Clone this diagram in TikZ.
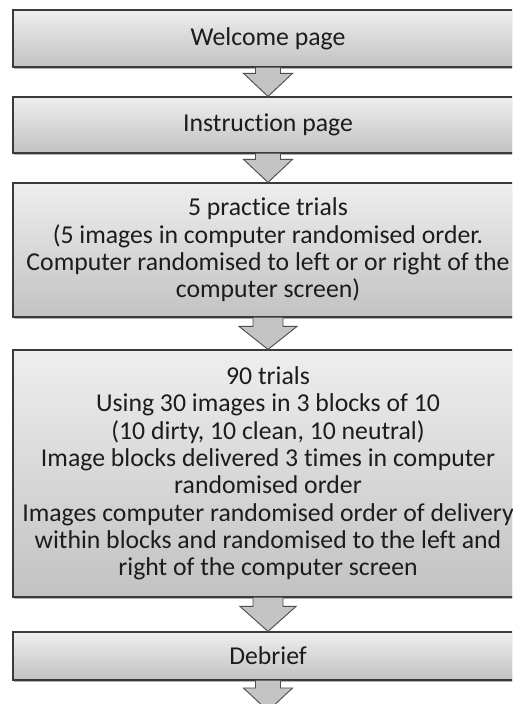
\documentclass[tikz,border=0pt]{standalone}
\usepackage{fontspec}
\setmainfont{Carlito}[Ligatures = NoCommon]
\usetikzlibrary{calc, shadows}

\definecolor{boxtop}{RGB}{238,238,238}
\definecolor{boxbottom}{RGB}{194,194,194}
\definecolor{boxline}{RGB}{58,58,58}
\definecolor{arrowfill}{RGB}{196,196,196}
\definecolor{arrowline}{RGB}{78,78,78}
\definecolor{textgrey}{RGB}{28,28,28}

\newcommand{\flowarrow}[5]{%
    \filldraw[blockarrow] ($(#1)+(-#3,0)$) -- ($(#2)+(-#3,#5)$) -- ($(#2)+(-#4,#5)$) -- (#2)
        -- ($(#2)+(#4,#5)$) -- ($(#2)+(#3,#5)$) -- ($(#1)+(#3,0)$);
}

\begin{document}
\begin{tikzpicture}[x = 0.75pt, y = 0.75pt,
        stage/.style = {draw = boxline, line width = 0.9pt, top color = boxtop, bottom color = boxbottom,
            minimum width = 382.5pt, inner sep = 0pt, align = center, text = textgrey,
            font = \fontsize{19.3}{20.5}\selectfont,
            drop shadow = {shadow xshift = 0.4pt, shadow yshift = -1.4pt, opacity = 0.3, fill = black}},
        blockarrow/.style = {draw = arrowline, fill = arrowfill, line width = 0.7pt, line join = miter}]
    \clip (0,0) rectangle (512,704);
    \fill[white] (0,0) rectangle (512,704);

    \node[stage, minimum height = 42.75pt] (welcome) at (268,665.5) {Welcome page};
    \node[stage, minimum height = 42pt] (instruction) at (268,579) {Instruction page};
    \node[stage, minimum height = 100.5pt] (practice) at (268,454) {5 practice trials\\
        (5 images in computer randomised order.\\
        Computer randomised to left or or right of the\\
        computer screen)};
    \node[stage, minimum height = 185.25pt] (trials) at (268,230.5) {90 trials\\
        Using 30 images in 3 blocks of 10\\
        (10 dirty, 10 clean, 10 neutral)\\
        Image blocks delivered 3 times in computer\\
        randomised order\\
        Images computer randomised order of delivery\\
        within blocks and randomised to the left and\\
        right of the computer screen};
    \node[stage, minimum height = 36pt] (debrief) at (268,48) {Debrief};
    \coordinate (tail) at (268,-7);

    \flowarrow{welcome.south}{instruction.north}{12.5}{24.5}{23}
    \flowarrow{instruction.south}{practice.north}{12.5}{24.5}{23}
    \flowarrow{practice.south}{trials.north}{15}{29}{23}
    \flowarrow{trials.south}{debrief.north}{15}{28}{25}
    \flowarrow{debrief.south}{tail}{12.5}{24.5}{23}
\end{tikzpicture}
\end{document}
